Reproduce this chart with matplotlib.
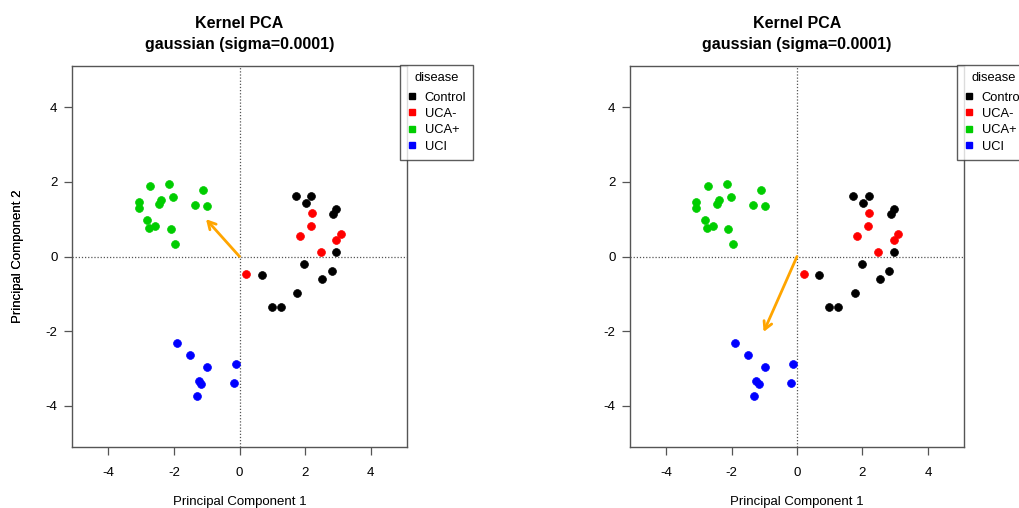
import matplotlib
matplotlib.use("Agg")
import matplotlib.pyplot as plt
from matplotlib.lines import Line2D

plt.rcParams['font.family'] = ['Liberation Sans', 'DejaVu Sans']

groups = ["Control", "UCA-", "UCA+", "UCI"]
colors = ["#000000", "#FF0000", "#00CD00", "#0000FF"]

control_x = [1.71, 2.19, 2.02, 2.95, 2.86, 2.95, 1.97, 2.82, 2.52, 0.68, 1.76, 0.99, 1.25]
control_y = [1.62, 1.63, 1.42, 1.28, 1.13, 0.13, -0.19, -0.39, -0.60, -0.50, -0.99, -1.36, -1.34]
ucam_x = [2.21, 2.18, 1.83, 3.08, 2.95, 2.48, 0.21]
ucam_y = [1.16, 0.81, 0.54, 0.59, 0.45, 0.11, -0.46]
ucap_x = [-2.72, -2.14, -1.10, -2.02, -2.39, -2.44, -3.07, -3.07, -1.35, -0.99, -2.82, -2.75, -2.56, -2.10, -1.95]
ucap_y = [1.88, 1.93, 1.79, 1.60, 1.51, 1.40, 1.46, 1.29, 1.39, 1.35, 0.98, 0.77, 0.82, 0.73, 0.34]
uci_x = [-1.90, -1.50, -0.98, -0.11, -1.24, -1.16, -0.18, -1.30]
uci_y = [-2.32, -2.65, -2.95, -2.88, -3.34, -3.40, -3.39, -3.73]

series_x = [control_x, ucam_x, ucap_x, uci_x]
series_y = [control_y, ucam_y, ucap_y, uci_y]

arrow_tips = [(-1.02, 1.00), (-1.02, -2.02)]
ticks = [-4, -2, 0, 2, 4]
title = "Kernel PCA\ngaussian (sigma=0.0001)"

W, H = 1020, 508
fig = plt.figure(figsize=(W / 100, H / 100), dpi=100)

def px_axes(left, top, right, bottom):
    return fig.add_axes([left / W, 1 - bottom / H, (right - left) / W, (bottom - top) / H])

panels = [(72, 66, 407, 447), (630, 66, 964, 447)]
frame_col = "#555555"

for (l, t, r, b), tip in zip(panels, arrow_tips):
    ax = px_axes(l, t, r, b)
    ax.set_xlim(-5.1, 5.1)
    ax.set_ylim(-5.1, 5.1)
    ax.axhline(0, color="#555555", lw=0.9, ls=(0, (1, 1.5)), zorder=1)
    ax.axvline(0, color="#555555", lw=0.9, ls=(0, (1, 1.5)), zorder=1)
    for xs, ys, c in zip(series_x, series_y, colors):
        ax.scatter(xs, ys, s=32, color=c, edgecolors=c, linewidths=0.5, zorder=3)
    ax.annotate("", xy=tip, xytext=(0, 0),
                arrowprops=dict(arrowstyle="->,head_length=0.55,head_width=0.3",
                                color="#FFA500", lw=2, shrinkA=0, shrinkB=0),
                zorder=4)
    ax.set_xticks(ticks)
    ax.set_yticks(ticks)
    ax.set_xticklabels([str(v) for v in ticks])
    ax.set_yticklabels([str(v) for v in ticks])
    ax.tick_params(direction="out", length=5.5, width=0.9, color=frame_col,
                   labelsize=9.5)
    ax.tick_params(axis="x", pad=9)
    ax.tick_params(axis="y", pad=5)
    for s in ax.spines.values():
        s.set_color(frame_col)
        s.set_linewidth(1)
    ax.set_xlabel("Principal Component 1", fontsize=9.5)
    ax.set_ylabel("Principal Component 2", fontsize=9.5)
    ax.xaxis.set_label_coords(0.5, (b - 496) / (b - t))
    ax.yaxis.set_label_coords((24 - l) / (r - l), 0.5)
    ax.set_title(title, fontsize=11.5, fontweight="bold", pad=12, linespacing=1.55)

    handles = [Line2D([], [], marker="s", ls="", color=c, markersize=4.3) for c in colors]
    leg = ax.legend(handles, groups, title="disease", loc="upper left",
                    bbox_to_anchor=((r - 7 - l) / (r - l), 1.003),
                    frameon=True, fancybox=False, fontsize=9.3, title_fontsize=9.3,
                    handlelength=0.8, handletextpad=0.55, labelspacing=0.33,
                    borderpad=0.55, borderaxespad=0)
    leg._legend_box.sep = 5.5
    leg.get_frame().set_edgecolor("#333333")
    leg.get_frame().set_linewidth(1)
    leg.set_clip_on(False)

fig.savefig("out.png", dpi=100)
